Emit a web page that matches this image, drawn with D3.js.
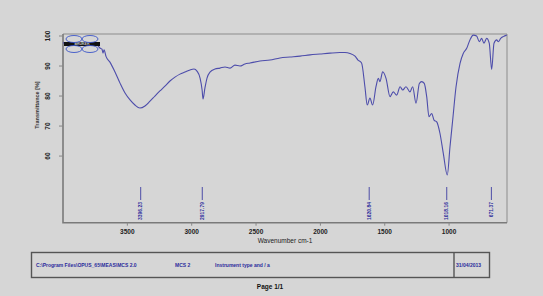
<!DOCTYPE html>
<html><head><meta charset="utf-8">
<script src="https://cdn.jsdelivr.net/npm/d3@7"></script>
<style>html,body{margin:0;padding:0;background:#d6d6d6;}svg{display:block;}</style>
</head><body>
<svg id="c" width="543" height="296"></svg>
<script>
const wavenumber = [4000,3946,3868,3790,3736,3713,3697,3689,3681,3666,3635,3596,3557,3518,3479,3441,3402,3363,3324,3286,3247,3208,3169,3130,3091,3052,3013,2982,2959,2935,2919,2912,2897,2881,2858,2819,2780,2741,2702,2664,2625,2586,2547,2469,2392,2314,2236,2158,2081,2003,1925,1848,1809,1770,1731,1708,1680,1654,1636,1615,1594,1568,1550,1537,1516,1490,1459,1434,1407,1381,1360,1335,1304,1283,1257,1231,1213,1193,1174,1156,1135,1117,1096,1071,1045,1014,993,972,946,915,890,863,838,812,786,765,747,729,708,688,669,651,630,618,599,579,552];
const transmittance = [97.7,97.7,97.5,97.3,97.0,96.0,95.6,94.3,95.4,93.2,91.3,88.0,84.3,81.0,78.7,77.0,76.0,76.7,78.3,80.0,81.7,83.3,85.0,86.3,87.3,88.0,88.7,89.0,88.3,86.0,82.0,79.0,82.7,86.0,88.0,89.0,89.3,89.7,89.3,90.3,90.0,90.7,91.0,91.7,92.0,92.7,93.0,93.3,93.7,94.0,94.3,94.5,94.5,94.2,93.3,92.0,91.0,83.1,77.0,79.3,77.0,83.1,85.9,84.8,88.1,85.9,79.8,81.4,80.3,83.1,82.0,83.1,81.4,83.1,77.6,84.2,84.8,84.2,79.8,73.1,74.2,72.0,71.4,67.6,60.9,53.7,63.1,72.0,83.1,90.9,94.2,95.9,98.7,100.3,100.0,98.1,99.2,97.6,99.2,97.6,88.9,97.6,98.7,98.1,99.2,99.8,100.3];
const xTicks = [3500,3000,2500,2000,1500,1000];
const yTicks = [100,90,80,70,60];
const peakPositions = [3396.23,2917.79,1620.84,1018.16,671.37];
const peakLabels = ["3396.23","2917.79","1620.84","1018.16","671.37"];
const footerTexts = ["C:\\Program Files\\OPUS_65\\MEAS\\MCS 2.0","MCS 2","Instrument type and / a"];
const footerDate = "31/04/2013";

const svg = d3.select("#c");
const L=63, R=507, T=34, B=222.7;
const x = d3.scaleLinear().domain([4000,550]).range([L,R]);
const y = d3.scaleLinear().domain([37.8,100.67]).range([B,T]);
const font = "'Liberation Sans', Arial, sans-serif";
const blue = "#2b2b9c";

svg.append("rect").attr("width",543).attr("height",296).attr("fill","#d6d6d6");

// frame top / right
svg.append("path").attr("d",`M${L},${T}H${R}V${B}`).attr("fill","none").attr("stroke","#8c8c8c").attr("stroke-width",1);
// left & bottom axes
svg.append("path").attr("d",`M${L},${T}V${B}H${R}`).attr("fill","none").attr("stroke","#7a7a7a").attr("stroke-width",1.6);

// y ticks
yTicks.forEach(v=>{
  svg.append("line").attr("x1",L-4).attr("x2",L).attr("y1",y(v)).attr("y2",y(v)).attr("stroke","#888").attr("stroke-width",1);
  svg.append("text").attr("transform",`translate(48,${y(v)}) rotate(-90)`).attr("text-anchor","middle").attr("dy","0.35em")
    .attr("font-family",font).attr("font-weight","bold").attr("font-size",6.5).attr("fill","#222").text(v);
});
svg.append("text").attr("transform",`translate(37,105) rotate(-90)`).attr("text-anchor","middle").attr("dy","0.35em")
  .attr("font-family",font).attr("font-weight","bold").attr("font-size",5.5).attr("fill","#333").text("Transmittance [%]");

// x ticks
xTicks.forEach(v=>{
  svg.append("line").attr("x1",x(v)).attr("x2",x(v)).attr("y1",B).attr("y2",B+3).attr("stroke","#888").attr("stroke-width",1);
  svg.append("text").attr("x",x(v)).attr("y",234).attr("text-anchor","middle")
    .attr("font-family",font).attr("font-weight","bold").attr("font-size",6.5).attr("fill","#222").text(v);
});
svg.append("text").attr("x",285).attr("y",243).attr("text-anchor","middle")
  .attr("font-family",font).attr("font-size",6.5).attr("fill","#222").text("Wavenumber cm-1");

// spectrum
const line = d3.line().x((d,i)=>x(wavenumber[i])).y((d,i)=>y(transmittance[i])).curve(d3.curveMonotoneX);
svg.append("path").datum(transmittance).attr("d",line).attr("fill","none").attr("stroke","#4d4dab").attr("stroke-width",1.1);

// legend icon top-left
const g = svg.append("g");
g.append("rect").attr("x",64).attr("y",42).attr("width",36).attr("height",4).attr("fill","#111");
g.append("text").attr("x",82).attr("y",45.3).attr("text-anchor","middle").attr("font-family",font).attr("font-size",3.5).attr("font-weight","bold").attr("fill","#ccc").text("BRUKER");
[[74,39],[90,39],[74,49],[90,49]].forEach(([cx,cy])=>{
  g.append("ellipse").attr("cx",cx).attr("cy",cy).attr("rx",8).attr("ry",3.5).attr("fill","none").attr("stroke","#3b55c8").attr("stroke-width",0.9);
});

// peak markers
peakPositions.forEach((p,i)=>{
  svg.append("line").attr("x1",x(p)).attr("x2",x(p)).attr("y1",187).attr("y2",200).attr("stroke",blue).attr("stroke-width",0.8);
  svg.append("text").attr("transform",`translate(${x(p)},202) rotate(-90)`).attr("text-anchor","end").attr("dy","0.35em")
    .attr("font-family",font).attr("font-weight","bold").attr("font-size",5).attr("fill",blue).text(peakLabels[i]);
});

// footer
svg.append("rect").attr("x",31.5).attr("y",252.5).attr("width",458).attr("height",25).attr("fill","none").attr("stroke","#555").attr("stroke-width",1.4);
svg.append("line").attr("x1",454).attr("x2",454).attr("y1",252.5).attr("y2",277.5).attr("stroke","#555").attr("stroke-width",1.4);
[[36,footerTexts[0]],[175,footerTexts[1]],[215,footerTexts[2]],[456,footerDate]].forEach(([tx,t])=>{
  svg.append("text").attr("x",tx).attr("y",266.5).attr("font-family",font).attr("font-weight","bold").attr("font-size",5).attr("fill",blue).text(t);
});
svg.append("text").attr("x",270).attr("y",289).attr("text-anchor","middle").attr("font-family",font).attr("font-weight","bold").attr("font-size",6.5).attr("fill","#111").text("Page 1/1");
</script>
</body></html>
